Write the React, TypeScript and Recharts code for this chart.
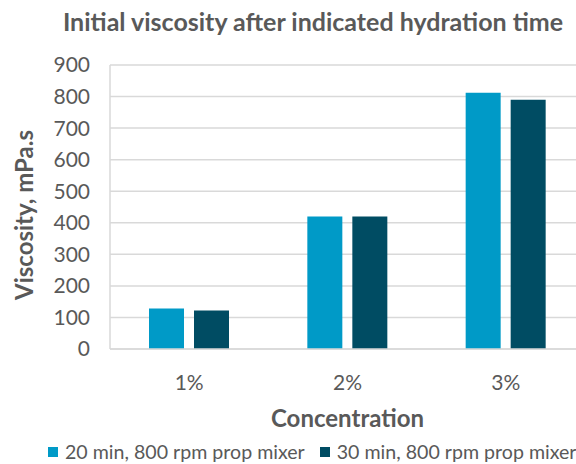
import React from "react";
import { BarChart, Bar, XAxis, YAxis, CartesianGrid, Legend, Label } from "recharts";

const concentrations = ["1%", "2%", "3%"];
const mix20 = [128, 420, 812];
const mix30 = [122, 420, 790];
const yTicks = [0, 100, 200, 300, 400, 500, 600, 700, 800, 900];

const seriesNames = ["20 min, 800 rpm prop mixer", "30 min, 800 rpm prop mixer"];
const seriesColors = ["#009ac7", "#004c63"];

const data = concentrations.map((c, i) => ({ name: c, a: mix20[i], b: mix30[i] }));

const FONT = "Lato, 'Open Sans', sans-serif";
const TEXT = "#595959";
const GRID = "#d9d9d9";

function LegendBox() {
  return (
    <div style={{ display: "flex", alignItems: "center", fontSize: 19.6, lineHeight: "22px", color: TEXT, fontFamily: FONT, whiteSpace: "nowrap" }}>
      {seriesNames.map((n, i) => (
        <div key={n} style={{ display: "flex", alignItems: "center", marginRight: 15 }}>
          <span style={{ display: "inline-block", width: 10, height: 10, background: seriesColors[i], marginRight: 7 }} />
          <span>{n}</span>
        </div>
      ))}
    </div>
  );
}

export default function App() {
  return (
    <div
      style={{
        position: "fixed",
        top: 0,
        left: 0,
        width: 576,
        height: 464,
        overflow: "hidden",
        background: "#fff",
        fontFamily: FONT,
      }}
    >
      <div
        style={{
          position: "absolute",
          top: 6,
          left: 0,
          width: 626,
          textAlign: "center",
          fontSize: 25,
          fontWeight: 700,
          color: TEXT,
        }}
      >
        Initial viscosity after indicated hydration time
      </div>
      <BarChart
        width={585}
        height={464}
        data={data}
        margin={{ top: 65, right: 0, bottom: 0, left: 0 }}
        barGap={10}
        barCategoryGap={39}
      >
        <CartesianGrid vertical={false} stroke={GRID} strokeWidth={1.5} />
        <XAxis
          dataKey="name"
          height={115}
          tickLine={false}
          tickSize={0}
          tickMargin={26}
          axisLine={{ stroke: GRID, strokeWidth: 1.5 }}
          tick={{ fill: TEXT, fontSize: 21, fontFamily: FONT }}
        >
          <Label
            value="Concentration"
            position="insideTop"
            offset={61}
            fill={TEXT}
            style={{ fontSize: 24, fontWeight: 700, fontFamily: FONT }}
          />
        </XAxis>
        <YAxis
          width={110}
          domain={[0, 900]}
          ticks={yTicks}
          interval={0}
          tickLine={false}
          tickSize={0}
          tickMargin={20}
          axisLine={{ stroke: GRID, strokeWidth: 1.5 }}
          tick={{ fill: TEXT, fontSize: 21, fontFamily: FONT }}
        >
          <Label
            content={() => (
              <text
                x={0}
                y={0}
                transform="translate(33 215) rotate(-90)"
                textAnchor="middle"
                fill={TEXT}
                style={{ fontSize: 24, fontWeight: 700, fontFamily: FONT }}
              >
                Viscosity, mPa.s
              </text>
            )}
          />
        </YAxis>
        <Legend
          verticalAlign="middle"
          align="center"
          wrapperStyle={{ top: 441, left: 48, width: 640 }}
          content={() => <LegendBox />}
        />
        <Bar dataKey="a" name={seriesNames[0]} fill={seriesColors[0]} barSize={35} isAnimationActive={false} />
        <Bar dataKey="b" name={seriesNames[1]} fill={seriesColors[1]} barSize={35} isAnimationActive={false} />
      </BarChart>
    </div>
  );
}
